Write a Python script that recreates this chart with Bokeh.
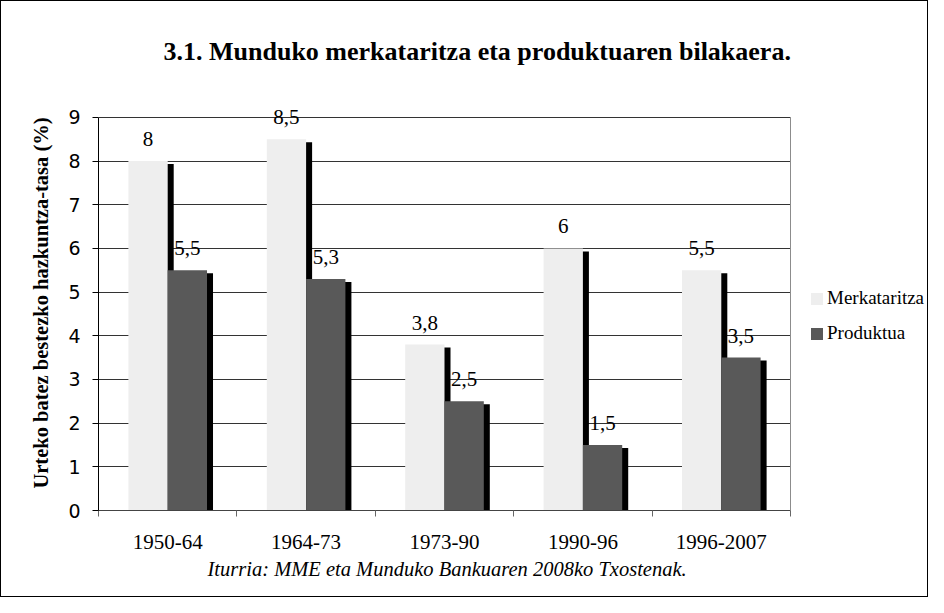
import numpy as np
from bokeh.plotting import figure
from bokeh.models import (ColumnDataSource, Range1d, FixedTicker,
                          Legend, LegendItem, Title)
from bokeh.transform import dodge
from bokeh.core.properties import value
from bokeh.embed import file_html
from bokeh.resources import INLINE

# ---- data ----
categories = ["1950-64", "1964-73", "1973-90", "1990-96", "1996-2007"]
merkataritza = [8.0, 8.5, 3.8, 6.0, 5.5]
produktua = [5.5, 5.3, 2.5, 1.5, 3.5]
y_ticks = [0, 1, 2, 3, 4, 5, 6, 7, 8, 9]

title_text = "3.1. Munduko merkataritza eta produktuaren bilakaera."
y_label = "Urteko batez bestezko hazkuntza-tasa (%)"
caption_text = "Iturria: MME eta Munduko Bankuaren 2008ko Txostenak."
series_names = ["Merkataritza", "Produktua"]


def fmt(v):
    return ("%g" % v).replace(".", ",")


ncat = len(categories)
xpos = np.arange(ncat) + 0.5
src = ColumnDataSource(dict(
    x=xpos,
    merk=merkataritza,
    prod=produktua,
    merk_lbl=[fmt(v) for v in merkataritza],
    prod_lbl=[fmt(v) for v in produktua],
))

SERIF = "Liberation Serif"
LIGHT = "#EEEEEE"
DARK = "#595959"
YMAX = 9.5            # head-room so the top value label is not clipped
PLOT_W = 692          # pixel width of the bar area
FRAME_W = 828         # frame also holds the legend on the right
XMAX = ncat * FRAME_W / PLOT_W

p = figure(frame_width=FRAME_W, frame_height=415, output_backend="svg", toolbar_location=None,
           x_range=Range1d(0, XMAX), y_range=Range1d(0, YMAX),
           min_border_left=97, min_border_right=1, min_border_top=94, min_border_bottom=86)
p.styles = {"border": "1px solid black"}
p.background_fill_color = "white"
p.border_fill_color = "white"
p.outline_line_color = None

BW = 0.284
OFF = 0.142
SHX = 0.0434   # shadow shift (about 6 px right)
SHY = -0.0687  # shadow shift (about 3 px down)

# right border of the plot area (from 0 to the top tick)
p.segment(x0=[ncat], y0=[y_ticks[0]], x1=[ncat], y1=[y_ticks[-1]],
          line_color="#8c8c8c", line_width=1)

# shadows
p.vbar(x=dodge("x", -OFF + SHX), top=dodge("merk", SHY), bottom=SHY, width=BW,
       source=src, fill_color="black", line_color=None)
p.vbar(x=dodge("x", OFF + SHX), top=dodge("prod", SHY), bottom=SHY, width=BW,
       source=src, fill_color="black", line_color=None)
# bars
r1 = p.vbar(x=dodge("x", -OFF), top="merk", bottom=0, width=BW, source=src,
            fill_color=LIGHT, line_color=None)
r2 = p.vbar(x=dodge("x", OFF), top="prod", bottom=0, width=BW, source=src,
            fill_color=DARK, line_color=None)

# value labels
for col, lbl, off in (("merk", "merk_lbl", -OFF), ("prod", "prod_lbl", OFF)):
    p.text(x=dodge("x", off), y=col, text=lbl, source=src,
           text_font=value(SERIF), text_font_size="21px", text_align="center",
           text_baseline="bottom", y_offset=-15, text_color="black")

# axes
xa = p.xaxis[0]
xa.bounds = (0, ncat)
xa.ticker = FixedTicker(ticks=list(xpos), minor_ticks=list(range(ncat + 1)))
xa.major_label_overrides = {float(x): c for x, c in zip(xpos, categories)}
xa.major_tick_out = 0
xa.major_tick_in = 0
xa.minor_tick_out = 6
xa.minor_tick_in = 0
xa.minor_tick_line_color = "#666666"
xa.axis_line_color = "#444444"
xa.major_label_text_font = SERIF
xa.major_label_text_font_size = "21px"
xa.major_label_text_color = "black"
xa.major_label_standoff = 18

ya = p.yaxis[0]
ya.ticker = FixedTicker(ticks=y_ticks)
ya.bounds = (y_ticks[0], y_ticks[-1])
ya.major_tick_out = 6
ya.major_tick_in = 0
ya.minor_tick_out = 0
ya.minor_tick_in = 0
ya.axis_line_color = "black"
ya.major_tick_line_color = "black"
ya.major_label_text_font = "DejaVu Sans"
ya.major_label_text_font_size = "19px"
ya.major_label_text_color = "black"
ya.major_label_standoff = 12
ya.axis_label = y_label
ya.axis_label_text_font = SERIF
ya.axis_label_text_font_style = "bold"
ya.axis_label_text_font_size = "20.5px"
ya.axis_label_text_color = "black"
ya.axis_label_standoff = 13

p.xgrid.grid_line_color = None
yg = p.ygrid[0]
yg.ticker = FixedTicker(ticks=y_ticks)
yg.grid_line_color = "#333333"
yg.grid_line_width = 1
if "cross_bounds" in yg.properties():
    yg.cross_bounds = (0, ncat)

# legend (inside the wide frame, right of the bars)
legend = Legend(items=[LegendItem(label=series_names[0], renderers=[r1]),
                       LegendItem(label=series_names[1], renderers=[r2])],
                location=(711, 166), padding=0, margin=0, spacing=13,
                glyph_width=15, glyph_height=15, label_height=20, label_standoff=3,
                label_text_font=SERIF, label_text_font_size="19px",
                label_text_color="black", border_line_color=None,
                background_fill_alpha=0)
p.add_layout(legend, "center")

# title (above) and caption (below)
p.title.text = title_text
p.title.align = "left"
p.title.offset = 65
p.title.standoff = 59
p.title.text_font = SERIF
p.title.text_font_style = "bold"
p.title.text_font_size = "26px"
p.title.text_color = "black"

cap = Title(text=caption_text, align="left", offset=109, standoff=9,
            text_font=SERIF, text_font_style="italic", text_font_size="20.5px",
            text_color="black")
p.add_layout(cap, "below")

open("out.html", "w").write(file_html(p, INLINE))
